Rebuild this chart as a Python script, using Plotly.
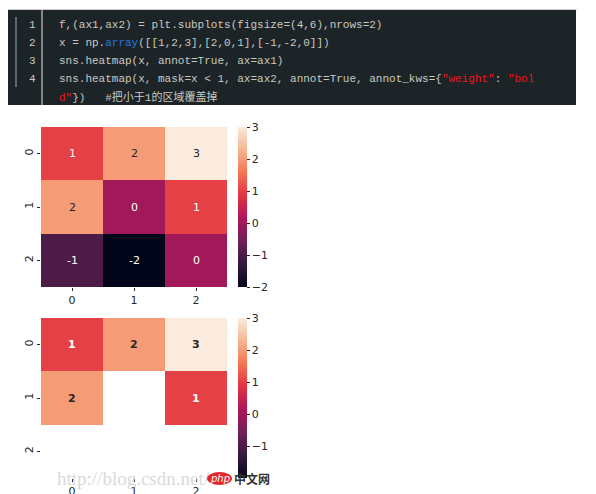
import plotly.graph_objects as go

# The page puts the figure 8px in from the top-left corner (default body margin);
# the figure is sized to reach the window's right and bottom edges and all
# positions are given in window pixels, shifted by that offset.
OFF = 8
W, H = 596 - OFF, 494 - OFF

# ---- data ----
rows = [0, 1, 2]
cols = [0, 1, 2]
z = [[1, 2, 3],
     [2, 0, 1],
     [-1, -2, 0]]
mask_threshold = 1
zmin, zmax = -2, 3
cbar_ticks_top = [-2, -1, 0, 1, 2, 3]
cbar_ticks_bottom = [-1, 0, 1, 2, 3]

code_numbers = ["1", "2", "3", "4"]
FG = "#c8c9c0"
BLUE = "#2a78e0"
RED = "#f01414"
code_lines = [
    [("f,(ax1,ax2) = plt.subplots(figsize=(4,6),nrows=2)", FG)],
    [("x = np.", FG), ("array", BLUE), ("([[1,2,3],[2,0,1],[-1,-2,0]])", FG)],
    [("sns.heatmap(x, annot=True, ax=ax1)", FG)],
    [("sns.heatmap(x, mask=x < 1, ax=ax2, annot=True, annot_kws={", FG),
     ("\"weight\"", RED), (": ", FG), ("\"bol", RED)],
    [("d\"", RED), ("})   #把小于1的区域覆盖掉", FG)],
]

rocket = [[0, '#03051a'], [1/7, '#35193e'], [2/7, '#701f57'], [3/7, '#ad1759'],
          [4/7, '#e13342'], [5/7, '#f37651'], [6/7, '#f6b48f'], [1, '#faebdd']]


def px(x):
    return (x - OFF) / W


def py(y):
    return 1 - (y - OFF) / H


fig = go.Figure()

masked = [[v if v >= mask_threshold else None for v in r] for r in z]

panels = [
    dict(data=z, top=127, bottom=287, ticks=cbar_ticks_top, bold=False, xa="x", ya="y"),
    dict(data=masked, top=318, bottom=478, ticks=cbar_ticks_bottom, bold=True, xa="x2", ya="y2"),
]

annotations = []
shapes = []

for k, p in enumerate(panels):
    fig.add_trace(go.Heatmap(
        z=p["data"], x=cols, y=rows, colorscale=rocket, zmin=zmin, zmax=zmax,
        xaxis=p["xa"], yaxis=p["ya"], hoverongaps=False,
        colorbar=dict(
            x=px(238), xanchor="left", xpad=0, ypad=0,
            y=py((p["top"] + p["bottom"]) / 2), yanchor="middle",
            len=p["bottom"] - p["top"], lenmode="pixels",
            thickness=9, thicknessmode="pixels", outlinewidth=0,
            tickvals=p["ticks"], ticks="outside", ticklen=3, tickwidth=1,
            tickcolor="#262626",
            tickfont=dict(family="DejaVu Sans", size=11, color="#262626"),
        ),
    ))
    suffix = "" if k == 0 else "2"
    fig.layout["xaxis" + suffix] = dict(
        domain=[px(41), px(227)], range=[-0.5, 2.5], anchor="y" + suffix,
        automargin=False,
        tickvals=cols, ticktext=[str(c) for c in cols], ticks="outside", ticklen=3,
        tickcolor="#262626", showgrid=False, zeroline=False, showline=False,
        tickfont=dict(family="DejaVu Sans", size=11, color="#262626"),
    )
    fig.layout["yaxis" + suffix] = dict(
        domain=[py(p["bottom"]), py(p["top"])], range=[2.5, -0.5], anchor="x" + suffix,
        automargin=False,
        tickvals=rows, ticktext=[str(r) for r in rows], ticks="outside", ticklen=3,
        tickcolor="#262626", showgrid=False, zeroline=False, showline=False,
        tickangle=-90,
        tickfont=dict(family="DejaVu Sans", size=11, color="#262626"),
    )
    for i, r in enumerate(rows):
        for j, c in enumerate(cols):
            v = p["data"][i][j]
            if v is None:
                continue
            frac = (v - zmin) / (zmax - zmin)
            color = "#262626" if frac > 0.7 else "#ffffff"
            txt = f"<b>{v}</b>" if p["bold"] else str(v)
            annotations.append(dict(
                x=c, y=r, xref=p["xa"], yref=p["ya"], text=txt, showarrow=False,
                font=dict(family="DejaVu Sans", size=11, color=color),
            ))

# ---- page background strip on the right ----
shapes.append(dict(type="rect", xref="paper", yref="paper", x0=px(589), x1=px(596),
                   y0=0, y1=1, fillcolor="#efefef", line=dict(width=0), layer="below"))

# ---- code block ----
shapes.append(dict(type="line", xref="paper", yref="paper", x0=px(8), x1=px(577),
                   y0=py(9.5), y1=py(9.5), line=dict(color="#d0d0d0", width=1)))
shapes.append(dict(type="rect", xref="paper", yref="paper", x0=px(8), x1=px(576),
                   y0=py(105), y1=py(10), fillcolor="#1d2428", line=dict(width=0),
                   layer="below"))
shapes.append(dict(type="rect", xref="paper", yref="paper", x0=px(15), x1=px(17),
                   y0=py(87), y1=py(17), fillcolor="#5b6b6b", line=dict(width=0)))
shapes.append(dict(type="line", xref="paper", yref="paper", x0=px(42), x1=px(42),
                   y0=py(105), y1=py(10), line=dict(color="#e8e8e8", width=1)))

line_y = [25, 43, 61, 79, 97]
for n, yv in zip(code_numbers, line_y):
    annotations.append(dict(
        x=px(38), y=py(yv), xref="paper", yref="paper", xanchor="right", yanchor="middle",
        text=n, showarrow=False,
        font=dict(family="Liberation Mono", size=11, color="#c8c9c0"),
    ))

for segs, yv in zip(code_lines, line_y):
    html = "".join(
        f'<span style="color:{col}">'
        + s.replace("<", "&lt;").replace(" ", "\u00a0")
        + "</span>"
        for s, col in segs
    )
    annotations.append(dict(
        x=px(57), y=py(yv), xref="paper", yref="paper", xanchor="left", yanchor="middle",
        text=html, showarrow=False, align="left",
        font=dict(family="Liberation Mono, Noto Sans CJK SC", size=11, color=FG),
    ))

# ---- watermark ----
annotations.append(dict(
    x=px(55), y=py(478), xref="paper", yref="paper", xanchor="left", yanchor="middle",
    text="http://blog.csdn.net/", showarrow=False,
    font=dict(family="Liberation Serif", size=19, color="rgba(200,200,200,0.7)"),
))
shapes.append(dict(type="circle", xref="paper", yref="paper", x0=px(207), x1=px(232),
                   y0=py(485), y1=py(472), fillcolor="#e3262b", line=dict(width=0)))
annotations.append(dict(
    x=px(219.5), y=py(478.5), xref="paper", yref="paper", xanchor="center", yanchor="middle",
    text="<i>php</i>", showarrow=False,
    font=dict(family="DejaVu Sans", size=10, color="#ffffff"),
))
annotations.append(dict(
    x=px(232), y=py(478), xref="paper", yref="paper", xanchor="left", yanchor="middle",
    text="<b>中文网</b>", showarrow=False,
    font=dict(family="Noto Sans CJK SC", size=12, color="#333333"),
))

fig.update_layout(
    width=W, height=H, margin=dict(l=0, r=0, t=0, b=0, autoexpand=False),
    paper_bgcolor="#ffffff", plot_bgcolor="rgba(0,0,0,0)",
    annotations=annotations, shapes=shapes, showlegend=False,
)

fig.write_html("out.html")
